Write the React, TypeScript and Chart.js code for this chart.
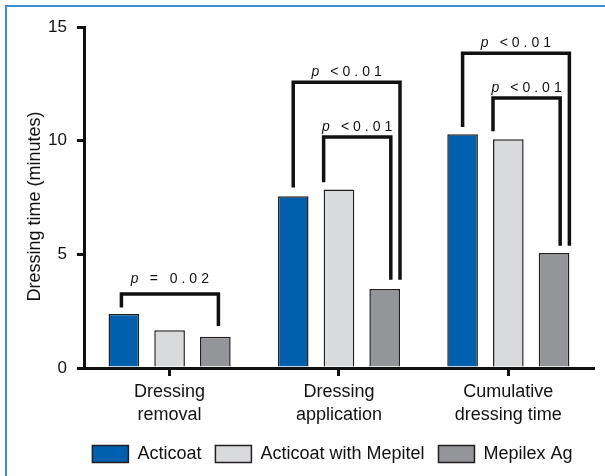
import React, { useEffect, useRef } from "react";
import { Chart, registerables } from "chart.js";

Chart.register(...registerables);

const categories = [
  ["Dressing", "removal"],
  ["Dressing", "application"],
  ["Cumulative", "dressing time"],
];
const seriesNames = ["Acticoat", "Acticoat with Mepitel", "Mepilex Ag"];
const acticoat = [2.37, 7.56, 10.28];
const acticoatMepitel = [1.66, 7.85, 10.06];
const mepilexAg = [1.37, 3.47, 5.06];
const yMin = 0;
const yMax = 15;
const yStep = 5;
const yTitle = "Dressing time (minutes)";

// significance brackets
const bracketCategory = [0, 1, 1, 2, 2];
const bracketFromSeries = [0, 0, 1, 0, 1];
const bracketToSeries = [2, 2, 2, 2, 2];
const bracketTop = [3.25, 12.57, 10.16, 13.85, 11.88];
const bracketLeftEnd = [2.66, 7.94, 8.17, 10.6, 10.41];
const bracketRightEnd = [1.85, 3.88, 3.88, 5.38, 5.38];
const bracketLabel = ["= 0.02", "<0.01", "<0.01", "<0.01", "<0.01"];

// styling (leg positions as fraction of bar width from the bar centre)
const legOffsetLeft = [-0.08, 0, -0.5, 0, -0.5];
const legOffsetRight = [0.1, 0.5, 0.2, 0.5, 0.2];
const labelSpacing = [4, 4, 4, 4, 4];
const labelLift = [11, 6, 6, 6, 6];

const colors = ["#0060ae", "#d9dadc", "#939598"];
const FONT = "'Liberation Sans', Arial, sans-serif";
const INK = "#111111";

const framePlugin = {
  id: "frame",
  beforeDraw(chart: any) {
    const ctx = chart.ctx;
    ctx.save();
    ctx.strokeStyle = "#3f8bd5";
    ctx.lineWidth = 2;
    ctx.beginPath();
    ctx.moveTo(6, chart.height);
    ctx.lineTo(6, 6);
    ctx.lineTo(chart.width, 6);
    ctx.stroke();
    ctx.restore();
  },
};

const legendCenterPlugin = {
  id: "legendCenter",
  afterLayout(chart: any) {
    if (chart.legend) {
      chart.legend.left = chart.chartArea.left - 28;
      chart.legend.right = chart.chartArea.right + 15;
    }
  },
};

const yTitlePlugin = {
  id: "yTitle",
  afterDraw(chart: any) {
    const ctx = chart.ctx;
    const area = chart.chartArea;
    ctx.save();
    ctx.fillStyle = INK;
    ctx.font = `18px ${FONT}`;
    ctx.textAlign = "center";
    ctx.textBaseline = "middle";
    ctx.translate(35, (area.top + area.bottom) / 2 + 9);
    ctx.rotate(-Math.PI / 2);
    ctx.fillText(yTitle, 0, 0);
    ctx.restore();
  },
};

const bracketPlugin = {
  id: "brackets",
  afterDatasetsDraw(chart: any) {
    const ctx = chart.ctx;
    const y = chart.scales.y;
    ctx.save();
    for (let i = 0; i < bracketCategory.length; i++) {
      const c = bracketCategory[i];
      const a = chart.getDatasetMeta(bracketFromSeries[i]).data[c];
      const b = chart.getDatasetMeta(bracketToSeries[i]).data[c];
      const xl = a.x + legOffsetLeft[i] * a.width;
      const xr = b.x + legOffsetRight[i] * b.width;
      const yt = y.getPixelForValue(bracketTop[i]);
      const yl = y.getPixelForValue(bracketLeftEnd[i]);
      const yr = y.getPixelForValue(bracketRightEnd[i]);
      ctx.strokeStyle = INK;
      ctx.lineWidth = 3.5;
      ctx.lineJoin = "miter";
      ctx.lineCap = "butt";
      ctx.beginPath();
      ctx.moveTo(xl, yl);
      ctx.lineTo(xl, yt);
      ctx.lineTo(xr, yt);
      ctx.lineTo(xr, yr);
      ctx.stroke();

      // label
      ctx.fillStyle = INK;
      ctx.textBaseline = "alphabetic";
      ctx.textAlign = "left";
      ctx.font = `italic 14px ${FONT}`;
      (ctx as any).letterSpacing = "0px";
      const wp = ctx.measureText("p").width;
      ctx.font = `14px ${FONT}`;
      (ctx as any).letterSpacing = `${labelSpacing[i]}px`;
      const wr = ctx.measureText(bracketLabel[i]).width - labelSpacing[i];
      const gap = 11;
      const total = wp + gap + wr;
      const cx = (xl + xr) / 2;
      const x0 = cx - total / 2;
      const base = yt - labelLift[i];
      ctx.font = `italic 14px ${FONT}`;
      (ctx as any).letterSpacing = "0px";
      ctx.fillText("p", x0, base);
      ctx.font = `14px ${FONT}`;
      (ctx as any).letterSpacing = `${labelSpacing[i]}px`;
      ctx.fillText(bracketLabel[i], x0 + wp + gap, base);
      (ctx as any).letterSpacing = "0px";
    }
    ctx.restore();
  },
};

export default function App() {
  const ref = useRef<HTMLCanvasElement | null>(null);

  useEffect(() => {
    if (!ref.current) return;
    const seriesValues = [acticoat, acticoatMepitel, mepilexAg];
    const chart = new Chart(ref.current, {
      type: "bar",
      data: {
        labels: categories,
        datasets: seriesNames.map((name, i) => ({
          label: name,
          data: seriesValues[i],
          backgroundColor: colors[i],
          borderColor: "#231f20",
          borderWidth: 1.5,
          categoryPercentage: 0.81,
          barPercentage: 0.67,
        })),
      },
      options: {
        responsive: false,
        animation: false,
        layout: { padding: { left: 38, right: 12, top: 27, bottom: 3 } },
        plugins: {
          tooltip: { enabled: false },
          legend: {
            position: "bottom",
            labels: {
              boxWidth: 36,
              boxHeight: 17,
              padding: 14,
              color: INK,
              font: { family: FONT, size: 18 },
            },
          },
        },
        scales: {
          x: {
            offset: true,
            grid: {
              offset: false,
              drawOnChartArea: false,
              tickLength: 8,
              lineWidth: 3,
              color: INK,
            },
            border: { width: 3, color: INK },
            ticks: {
              color: INK,
              font: { family: FONT, size: 18, lineHeight: 1.25 },
              padding: 5,
              maxRotation: 0,
            },
          },
          y: {
            min: yMin,
            max: yMax,
            grid: {
              drawOnChartArea: false,
              tickLength: 8,
              lineWidth: 3,
              color: INK,
            },
            border: { width: 3, color: INK },
            ticks: {
              stepSize: yStep,
              color: INK,
              font: { family: FONT, size: 17 },
              padding: 10,
            },
          },
        },
      },
      plugins: [framePlugin, legendCenterPlugin, bracketPlugin, yTitlePlugin],
    });
    return () => chart.destroy();
  }, []);

  return (
    <div style={{ position: "fixed", left: 0, top: 0, width: 605, height: 476, background: "#ffffff" }}>
      <canvas ref={ref} width={605} height={476} style={{ display: "block" }} />
    </div>
  );
}
